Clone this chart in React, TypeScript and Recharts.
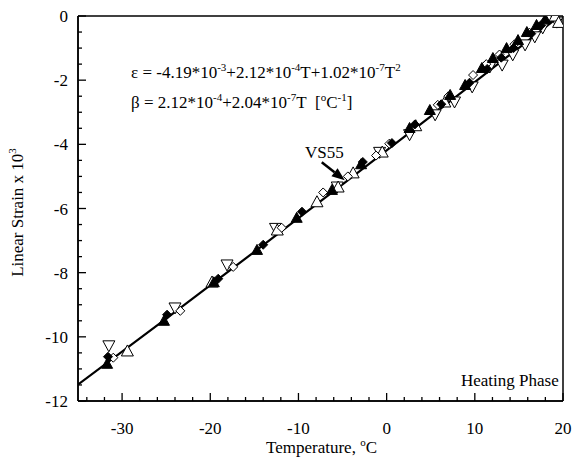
import React from 'react';
import { ComposedChart, Line, Scatter, XAxis, YAxis, ReferenceLine } from 'recharts';

// Fitted curve
const fitT = [-35, -25, -15, -5, 5, 15, 19.5];
const fitStrain = [-11.49, -9.43, -7.35, -5.25, -3.13, -0.99, -0.02];

// Filled triangles
const ftT = [-31.7, -25.25, -19.6, -14.7, -10.2, -6.2, -2.9, 2.6, 4.9, 7.2, 8.9, 10.8, 12.05, 13.6, 14.9, 15.9, 17.0, 18.0];
const ftS = [-10.84, -9.5, -8.3, -7.29, -6.29, -5.42, -4.62, -3.49, -2.93, -2.46, -2.15, -1.62, -1.31, -1.0, -0.75, -0.5, -0.28, -0.1];
// Filled diamonds
const fdT = [-31.6, -24.9, -19.1, -14.0, -9.6, -2.7, 0.6, 3.2, 6.2, 9.4, 11.4, 13.0, 14.4, 16.4, 17.5];
const fdS = [-10.62, -9.31, -8.19, -7.13, -6.1, -4.55, -3.96, -3.38, -2.75, -2.08, -1.65, -1.3, -1.0, -0.55, -0.3];
// Open diamonds
const odT = [-31.0, -23.4, -17.4, -11.9, -7.2, -4.4, -1.2, 0.3, 5.8, 7.0, 9.8, 11.3, 12.8, 14.5, 16.2, 17.8];
const odS = [-10.65, -9.19, -7.82, -6.6, -5.5, -5.0, -4.35, -3.98, -2.77, -2.5, -1.84, -1.5, -1.2, -0.88, -0.52, -0.2];
// Open up triangles
const outT = [-29.4, -19.8, -12.4, -7.9, -5.5, -3.8, -0.5, 3.3, 6.6, 18.3, 19.1, 19.5];
const outS = [-10.44, -8.29, -6.67, -5.79, -5.33, -4.89, -4.24, -3.42, -2.68, -0.02, 0.0, -0.2];
// Open down triangles
const odtT = [-31.5, -24.0, -18.1, -12.6, -5.6, -0.8, 2.6, 5.5, 7.7, 9.7, 11.7, 13.1, 14.3, 15.7, 16.8, 17.7, 19.3];
const odtS = [-10.28, -9.1, -7.76, -6.62, -5.33, -4.25, -3.7, -3.08, -2.68, -2.21, -1.59, -1.53, -1.21, -0.9, -0.65, -0.37, -0.19];

// Annotation arrow tip (VS55)
const arrowTipT = [-4.75];
const arrowTipS = [-5.12];

const xTicks = [-34, -32, -30, -28, -26, -24, -22, -20, -18, -16, -14, -12, -10, -8, -6, -4, -2, 0, 2, 4, 6, 8, 10, 12, 14, 16, 18, 20];
const yTicks = [-12, -11.5, -11, -10.5, -10, -9.5, -9, -8.5, -8, -7.5, -7, -6.5, -6, -5.5, -5, -4.5, -4, -3.5, -3, -2.5, -2, -1.5, -1, -0.5, 0];

const zip = (t: number[], s: number[]) => t.map((v, i) => ({ t: v, s: s[i] }));
const fitData = zip(fitT, fitStrain);

const FONT = 'Liberation Serif, Times New Roman, serif';
const TS = { fontFamily: FONT };

const FilledTri = (p: any) => (
  <polygon points={`${p.cx},${p.cy - 5.5} ${p.cx - 5.5},${p.cy + 4.5} ${p.cx + 5.5},${p.cy + 4.5}`} fill="#000" stroke="#000" />
);
const FilledDia = (p: any) => (
  <polygon points={`${p.cx},${p.cy - 4.5} ${p.cx + 4.5},${p.cy} ${p.cx},${p.cy + 4.5} ${p.cx - 4.5},${p.cy}`} fill="#000" stroke="#000" />
);
const OpenDia = (p: any) => (
  <polygon points={`${p.cx},${p.cy - 4.5} ${p.cx + 4.5},${p.cy} ${p.cx},${p.cy + 4.5} ${p.cx - 4.5},${p.cy}`} fill="#fff" stroke="#000" strokeWidth={1} />
);
const OpenUp = (p: any) => (
  <polygon points={`${p.cx},${p.cy - 6} ${p.cx - 6},${p.cy + 5} ${p.cx + 6},${p.cy + 5}`} fill="#fff" stroke="#000" strokeWidth={1} />
);
const OpenDown = (p: any) => (
  <polygon points={`${p.cx},${p.cy + 6} ${p.cx - 6},${p.cy - 5} ${p.cx + 6},${p.cy - 5}`} fill="#fff" stroke="#000" strokeWidth={1} />
);

// Arrow pointing down-right to (cx, cy)
const Arrow = (p: any) => {
  const { cx, cy } = p;
  const dx = -23, dy = -18;
  const L = Math.sqrt(dx * dx + dy * dy);
  const ux = -dx / L, uy = -dy / L; // direction of arrow
  const hl = 13, hw = 5;
  const bx = cx - ux * hl, by = cy - uy * hl;
  const nx = -uy, ny = ux;
  return (
    <g>
      <line x1={cx + dx} y1={cy + dy} x2={bx} y2={by} stroke="#000" strokeWidth={2.5} />
      <polygon points={`${cx},${cy} ${bx + nx * hw},${by + ny * hw} ${bx - nx * hw},${by - ny * hw}`} fill="#000" />
    </g>
  );
};

const BottomTick = (p: any) => {
  const v = p.payload.value;
  const major = v % 10 === 0;
  const len = major ? 8 : 4;
  return (
    <g>
      <path d={`M${p.x},${p.y}L${p.x},${p.y - len}`} stroke="#000" strokeWidth={1.3} fill="none" />
      {major && (
        <text x={p.x} y={p.y + 33} textAnchor="middle" style={TS} fontSize={17} fill="#000">{v}</text>
      )}
    </g>
  );
};
const TopTick = (p: any) => {
  const v = p.payload.value;
  const len = v % 10 === 0 ? 8 : 4;
  return <path d={`M${p.x},${p.y}L${p.x},${p.y + len}`} stroke="#000" strokeWidth={1.3} fill="none" />;
};
const LeftTick = (p: any) => {
  const v = p.payload.value;
  const major = v % 2 === 0;
  const len = major ? 8 : 4;
  return (
    <g>
      <path d={`M${p.x},${p.y}L${p.x + len},${p.y}`} stroke="#000" strokeWidth={1.3} fill="none" />
      {major && (
        <text x={p.x - 10} y={p.y + 6} textAnchor="end" style={TS} fontSize={17} fill="#000">{v}</text>
      )}
    </g>
  );
};
const RightTick = (p: any) => {
  const v = p.payload.value;
  const len = v % 2 === 0 ? 8 : 4;
  return <path d={`M${p.x},${p.y}L${p.x - len},${p.y}`} stroke="#000" strokeWidth={1.3} fill="none" />;
};

const XTitle = (p: any) => {
  const vb = p.viewBox;
  return (
    <text x={vb.x + vb.width / 2 + 1} y={vb.y + 52} textAnchor="middle" style={TS} fontSize={17} fill="#000">
      Temperature, <tspan dy={-7} fontSize={11}>o</tspan><tspan dy={7}>C</tspan>
    </text>
  );
};
const YTitle = (p: any) => {
  const vb = p.viewBox;
  const cx = 23;
  const cy = vb.y + vb.height / 2 + 4;
  return (
    <text x={cx} y={cy} transform={`rotate(-90 ${cx} ${cy})`} textAnchor="middle" style={TS} fontSize={17} fill="#000">
      Linear Strain x 10<tspan dy={-7} fontSize={11}>3</tspan>
    </text>
  );
};

const frame = { stroke: '#000', strokeWidth: 1.5 };

export default function App() {
  return (
    <div style={{ position: 'absolute', left: 0, top: 0, width: 573, height: 461, background: '#fff' }}>
      <ComposedChart width={573} height={461} margin={{ top: 16, right: 10, bottom: 0, left: 0 }}>
        <XAxis xAxisId="b" dataKey="t" type="number" domain={[-35, 20]} ticks={xTicks} interval={0} allowDataOverflow
          orientation="bottom" height={60} tickSize={0} tickMargin={0} tick={<BottomTick />}
          axisLine={frame} tickLine={false} label={<XTitle />} />
        <XAxis xAxisId="tp" dataKey="t" type="number" domain={[-35, 20]} ticks={xTicks} interval={0} allowDataOverflow
          orientation="top" height={0} tickSize={0} tickMargin={0} tick={<TopTick />}
          axisLine={frame} tickLine={false} />
        <YAxis yAxisId="l" dataKey="s" type="number" domain={[-12, 0]} ticks={yTicks} interval={0} allowDataOverflow
          orientation="left" width={78} tickSize={0} tickMargin={0} tick={<LeftTick />}
          axisLine={frame} tickLine={false} label={<YTitle />} />
        <YAxis yAxisId="r" dataKey="s" type="number" domain={[-12, 0]} ticks={yTicks} interval={0} allowDataOverflow
          orientation="right" width={0} tickSize={0} tickMargin={0} tick={<RightTick />}
          axisLine={frame} tickLine={false} />
        <ReferenceLine xAxisId="b" yAxisId="l" y={0} stroke="#000" strokeWidth={1.5} ifOverflow="visible" />
        <ReferenceLine xAxisId="b" yAxisId="l" y={-12} stroke="#000" strokeWidth={1.5} ifOverflow="visible" />
        <ReferenceLine xAxisId="b" yAxisId="l" x={-35} stroke="#000" strokeWidth={1.5} ifOverflow="visible" />
        <ReferenceLine xAxisId="b" yAxisId="l" x={20} stroke="#000" strokeWidth={1.5} ifOverflow="visible" />
        <Line xAxisId="b" yAxisId="l" data={fitData} dataKey="s" type="monotone" stroke="#000" strokeWidth={2.2} dot={false} isAnimationActive={false} />
        <Scatter xAxisId="b" yAxisId="l" data={zip(odtT, odtS)} dataKey="s" shape={<OpenDown />} isAnimationActive={false} />
        <Scatter xAxisId="b" yAxisId="l" data={zip(outT, outS)} dataKey="s" shape={<OpenUp />} isAnimationActive={false} />
        <Scatter xAxisId="b" yAxisId="l" data={zip(odT, odS)} dataKey="s" shape={<OpenDia />} isAnimationActive={false} />
        <Scatter xAxisId="b" yAxisId="l" data={zip(ftT, ftS)} dataKey="s" shape={<FilledTri />} isAnimationActive={false} />
        <Scatter xAxisId="b" yAxisId="l" data={zip(fdT, fdS)} dataKey="s" shape={<FilledDia />} isAnimationActive={false} />
        <Scatter xAxisId="b" yAxisId="l" data={zip(arrowTipT, arrowTipS)} dataKey="s" shape={<Arrow />} isAnimationActive={false} />
      </ComposedChart>
      <svg width={573} height={461} style={{ position: 'absolute', left: 0, top: 0, pointerEvents: 'none' }}>
        <text x={131} y={78} style={TS} fontSize={17} fill="#000">
          ε = -4.19*10<tspan dy={-7} fontSize={11}>-3</tspan><tspan dy={7}>+2.12*10</tspan><tspan dy={-7} fontSize={11}>-4</tspan><tspan dy={7}>T+1.02*10</tspan><tspan dy={-7} fontSize={11}>-7</tspan><tspan dy={7}>T</tspan><tspan dy={-7} fontSize={11}>2</tspan>
        </text>
        <text x={131} y={108} style={TS} fontSize={17} fill="#000">
          β = 2.12*10<tspan dy={-7} fontSize={11}>-4</tspan><tspan dy={7}>+2.04*10</tspan><tspan dy={-7} fontSize={11}>-7</tspan><tspan dy={7}>{'T\u00a0\u00a0['}</tspan><tspan dy={-7} fontSize={11}>o</tspan><tspan dy={7}>C</tspan><tspan dy={-7} fontSize={11}>-1</tspan><tspan dy={7}>]</tspan>
        </text>
        <text x={305} y={158} style={TS} fontSize={17} fill="#000">VS55</text>
        <text x={461} y={386} style={TS} fontSize={17} fill="#000">Heating Phase</text>
      </svg>
    </div>
  );
}
